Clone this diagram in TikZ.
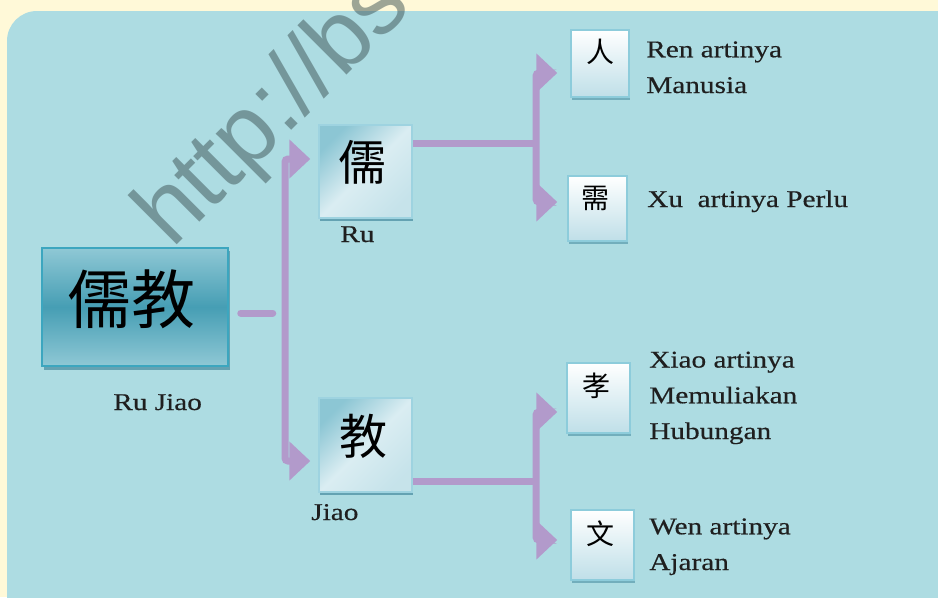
\documentclass[tikz,border=0pt]{standalone}
\usepackage{fontspec}
\setmainfont[FakeStretch=1.22,FakeBold=0.4]{Liberation Serif}
\newfontfamily\hanzifont{Noto Sans CJK TC}
\newfontfamily\markfont{Liberation Sans}
\usetikzlibrary{arrows.meta,calc}

\newlength{\du}
\setlength{\du}{0.75pt}

\definecolor{pagecolor}{RGB}{255,249,216}
\definecolor{panelcolor}{RGB}{173,220,226}
\definecolor{linkcolor}{RGB}{178,154,203}
\definecolor{markcolor}{RGB}{60,82,84}
\definecolor{bigedge}{RGB}{143,200,213}
\definecolor{bigmid}{RGB}{70,158,180}
\definecolor{bigline}{RGB}{60,166,191}
\definecolor{midlight}{RGB}{218,237,242}
\definecolor{middark}{RGB}{140,198,212}
\definecolor{midline}{RGB}{158,211,224}
\definecolor{smalllow}{RGB}{191,223,232}
\definecolor{smallline}{RGB}{141,204,219}
\definecolor{shadowcolor}{RGB}{100,162,178}

\tikzset{
  link/.style={draw=linkcolor, line width=7\du, rounded corners=3\du,
    >={Triangle[length=15.75pt,width=28.5pt]}},
  bigbox/.style={draw=bigline, line width=1.5\du, inner sep=0pt,
    top color=bigedge, bottom color=bigedge, middle color=bigmid},
  midbox/.style={draw=midline, line width=1.5\du, inner sep=0pt,
    top color=middark, bottom color=midlight!75!middark, middle color=midlight,
    shading angle=45},
  smallbox/.style={draw=smallline, line width=1.5\du, inner sep=0pt,
    top color=white, bottom color=smalllow},
  bighanzi/.style={inner sep=0pt, font=\hanzifont\fontsize{48}{48}\selectfont},
  midhanzi/.style={inner sep=0pt, font=\hanzifont\fontsize{36}{36}\selectfont},
  smallhanzi/.style={inner sep=0pt, font=\hanzifont\fontsize{21}{21}\selectfont},
  caption/.style={inner sep=0pt, anchor=base west, align=left,
    text=black!88, font=\fontsize{18}{26.8}\selectfont},
  watermark/.style={inner sep=0pt, anchor=base west, rotate=45,
    text=markcolor, text opacity=0.5, font=\markfont\fontsize{72}{72}\selectfont}
}

\begin{document}
\begin{tikzpicture}[x=1\du, y=-1\du]
\useasboundingbox (0,0) rectangle (938,597);
\clip (0,0) rectangle (938,597);
\fill[pagecolor] (0,0) rectangle (938,597);
\fill[panelcolor, rounded corners=30\du] (7,11) rectangle (990,650);
% setfont left to latex
\node[watermark] (wm) at (172,250) {http://bs};

% shadows
\fill[shadowcolor] (44,251) rectangle (230,370);
\fill[shadowcolor] (320,127) rectangle (413,221);
\fill[shadowcolor] (320,400) rectangle (413,495);
\fill[shadowcolor!80!panelcolor] (572,32) rectangle (630,100);
\fill[shadowcolor!80!panelcolor] (569,178) rectangle (628,244);
\fill[shadowcolor!80!panelcolor] (568,365) rectangle (631,436);
\fill[shadowcolor!80!panelcolor] (572,512) rectangle (635,583);

% boxes
\node[bigbox, minimum width=186\du, minimum height=118\du] (rujiao) at (135,307) {};
\node[midbox, minimum width=93\du, minimum height=93\du] (ru) at (365.5,171.5) {};
\node[midbox, minimum width=93\du, minimum height=94\du] (jiao) at (365.5,445) {};
\node[smallbox, minimum width=58\du, minimum height=67\du] (ren) at (600,63.5) {};
\node[smallbox, minimum width=59\du, minimum height=65\du] (xu) at (597.5,208.5) {};
\node[smallbox, minimum width=63\du, minimum height=70\du] (xiao) at (598.5,398) {};
\node[smallbox, minimum width=63\du, minimum height=70\du] (wen) at (602.5,545) {};

% setfont left to latex
\node[bighanzi] (rujiaochar) at (131,299) {儒教};
\node[midhanzi] (ruchar) at (362.5,162) {儒};
\node[midhanzi] (jiaochar) at (363,436) {教};
\node[smallhanzi] (renchar) at (600,52) {人};
\node[smallhanzi] (xuchar) at (595,198) {需};
\node[smallhanzi] (xiaochar) at (596,386) {孝};
\node[smallhanzi] (wenchar) at (600,534) {文};

% setfont left to latex (base = last line)
\node[caption] (rujiaolabel) at (113,410) {Ru Jiao};
\node[caption] (rulabel) at (340,242) {Ru};
\node[caption] (jiaolabel) at (311,520) {Jiao};
\node[caption] (rentext) at (646,93) {Ren artinya\\Manusia};
\node[caption] (xutext) at (647,207) {Xu\ \ artinya Perlu};
\node[caption] (xiaotext) at (649,439) {Xiao artinya\\Memuliakan\\Hubungan};
\node[caption] (wentext) at (649,570) {Wen artinya\\Ajaran};

% connectors
\coordinate (ruin) at ($(ru.west)+(-8,-12.5)$);
\coordinate (jiaoin) at ($(jiao.west)+(-8,16)$);
\coordinate (renin) at ($(ren.west)+(-13,9.5)$);
\coordinate (xuin) at ($(xu.west)+(-10,-6.5)$);
\coordinate (xiaoin) at ($(xiao.west)+(-9,14)$);
\coordinate (wenin) at ($(wen.west)+(-13,-5)$);
\coordinate (leftfork) at (285,313);
\coordinate (rufork) at (536,143);
\coordinate (jiaofork) at (536,481);

\draw[link, line cap=round] ($(rujiao.east)+(12,6)$) -- ++(32,0);
\draw[link, <->] (ruin) -| (leftfork) |- (jiaoin);
\draw[link] (rufork -| ru.east) -- (rufork);
\draw[link, <->] (renin) -| (rufork) |- (xuin);
\draw[link] (jiaofork -| jiao.east) -- (jiaofork);
\draw[link, <->] (xiaoin) -| (jiaofork) |- (wenin);
\end{tikzpicture}
\end{document}
